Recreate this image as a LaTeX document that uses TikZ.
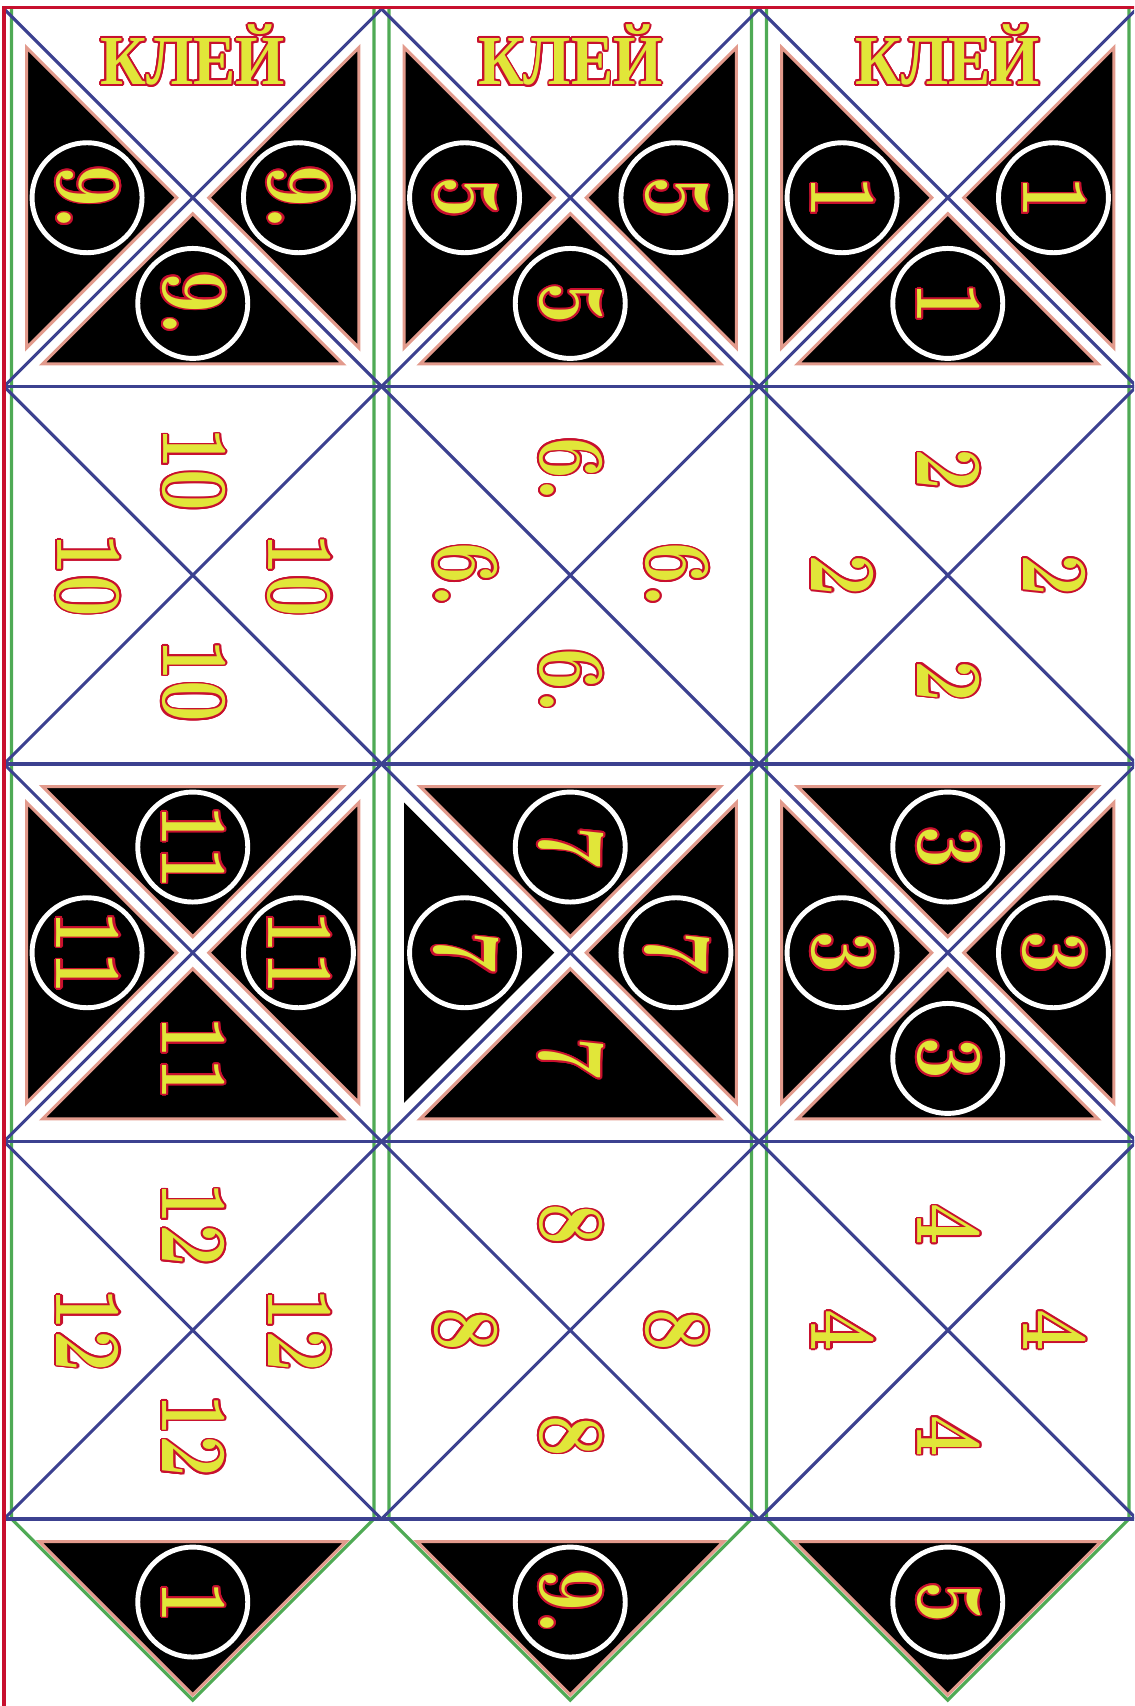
\documentclass[tikz,border=0pt]{standalone}
\usepackage{fontspec}
\newfontfamily\kleyfont{Liberation Serif}
\usepackage{graphicx}
\usepackage[copies]{contour}
\usetikzlibrary{positioning}
\definecolor{gridblue}{HTML}{3C4190}
\definecolor{foldgreen}{HTML}{4FAA55}
\definecolor{cutred}{HTML}{C8102E}
\definecolor{rimpink}{HTML}{E29A8C}
\definecolor{numyellow}{HTML}{E1E639}
\contourlength{0.6pt}
\newcommand{\facenum}[1]{\scalebox{0.78}[1]{\textcolor{numyellow}{\contour{cutred}{#1}}}}

\begin{document}
\begin{tikzpicture}[x=3.775cm,y=-3.775cm,
    gridln/.style={draw=gridblue,line width=0.9pt},
    foldln/.style={draw=foldgreen,line width=0.9pt},
    cutln/.style={draw=cutred,line width=0.9pt},
    tri/.style={fill=black,draw=rimpink,line width=0.9pt},
    num/.style={rotate=-90,inner sep=0pt,font=\bfseries\fontsize{27}{27}\selectfont},
    ring/.style={num,circle,draw=white,line width=1.4pt,minimum size=1.1cm},
    klei/.style={anchor=base,inner sep=0pt,font=\kleyfont\bfseries\fontsize{20}{20}\selectfont}]
  \useasboundingbox (-0.0106,-0.0238) rectangle (2.9934,4.4954);
  \clip (-0.0106,-0.0238) rectangle (2.9934,4.4954);
  % black triangles
  \foreach \c in {0,1,2} {
    \foreach \a in {90,180,270}
      \draw[tri,rotate around={\a:(\c+0.5,0.5)}] (\c+0.1024,0.06) -- (\c+0.8976,0.06) -- (\c+0.5,0.4576) -- cycle;
    \draw[tri] (\c+0.094,4.06) -- (\c+0.906,4.06) -- (\c+0.5,4.466) -- cycle;
  }
  \foreach \c in {0,2}
    \foreach \a in {0,90,180,270}
      \draw[tri,rotate around={\a:(\c+0.5,2.5)}] (\c+0.1024,2.06) -- (\c+0.8976,2.06) -- (\c+0.5,2.4576) -- cycle;
  \foreach \a in {0,180,270}
    \draw[tri,rotate around={\a:(1.5,2.5)}] (1.1024,2.06) -- (1.8976,2.06) -- (1.5,2.4576) -- cycle;
  \fill (1.06,2.1024) -- (1.06,2.8976) -- (1.4576,2.5) -- cycle;
  % fold and cut lines
  \foreach \c in {0,1,2} {
    \draw[foldln] (\c+0.02,0) -- (\c+0.02,4) -- (\c+0.5,4.48) -- (\c+0.98,4) -- (\c+0.98,0);
    \foreach \r in {0,...,3}
      \draw[gridln] (\c,\r) -- ++(1,1) (\c+1,\r) -- ++(-1,1);
  }
  \foreach \r in {1,...,4} \draw[gridln] (0,\r) -- (3,\r);
  \draw[cutln] (0,-0.005) rectangle (3.2,4.7);
  % faces
  \foreach \c/\n in {0/9.,1/5,2/1} {
    \node[klei] (klei\c) at (\c+0.5,0.201) {\scalebox{0.9}[1]{\textcolor{numyellow}{\contour{cutred}{КЛЕЙ}}}};
    \node[ring] (n\c-0-l) at (\c+0.22,0.5) {\facenum{\n}};
    \node[ring] (n\c-0-r) at (\c+0.78,0.5) {\facenum{\n}};
    \node[ring] (n\c-0-b) at (\c+0.5,0.78) {\facenum{\n}};
  }
  \foreach \c/\n in {0/1,1/9.,2/5}
    \node[ring] (flap\c) at (\c+0.5,4.22) {\facenum{\n}};
  \foreach \r/\lst in {1/{0/10,1/6.,2/2},3/{0/12,1/8,2/4}}
    \foreach \c/\n in \lst {
      \node[num] (n\c-\r-t) at (\c+0.5,\r+0.22) {\facenum{\n}};
      \node[num] (n\c-\r-l) at (\c+0.22,\r+0.5) {\facenum{\n}};
      \node[num] (n\c-\r-r) at (\c+0.78,\r+0.5) {\facenum{\n}};
      \node[num] (n\c-\r-b) at (\c+0.5,\r+0.78) {\facenum{\n}};
    }
  \foreach \c/\n in {0/11,1/7,2/3} {
    \node[ring] (n\c-2-t) at (\c+0.5,2.22) {\facenum{\n}};
    \node[ring] (n\c-2-l) at (\c+0.22,2.5) {\facenum{\n}};
    \node[ring] (n\c-2-r) at (\c+0.78,2.5) {\facenum{\n}};
  }
  \node[num] (n0-2-b) at (0.5,2.78) {\facenum{11}};
  \node[num] (n1-2-b) at (1.5,2.78) {\facenum{7}};
  \node[ring] (n2-2-b) at (2.5,2.78) {\facenum{3}};
\end{tikzpicture}
\end{document}
